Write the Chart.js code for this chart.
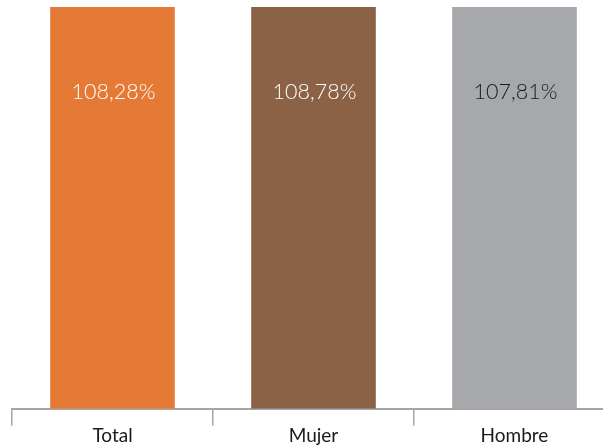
<!DOCTYPE html>
<html><head><meta charset="utf-8">
<script src="https://cdn.jsdelivr.net/npm/chart.js@4"></script>
<style>html,body{margin:0;padding:0;overflow:hidden;background:#fff;width:603px;height:445px}#wrap{width:615px;height:445px;position:relative}</style>
</head><body><div id="wrap"><canvas id="c"></canvas></div>
<script>
const categories = ["Total", "Mujer", "Hombre"];
const values = [108.28, 108.78, 107.81];
const valueLabels = ["108,28%", "108,78%", "107,81%"];
const barColors = ["#E57A37", "#8B6245", "#A7A8AB"];
const labelColors = ["#ffffff", "#ffffff", "#1a1a1a"];

const labelPlugin = {
  id: 'vlabels',
  afterDatasetsDraw(chart) {
    const ctx = chart.ctx;
    const meta = chart.getDatasetMeta(0);
    ctx.save();
    ctx.font = '300 21.5px "Lato", sans-serif';
    ctx.textAlign = 'center';
    ctx.textBaseline = 'middle';
    meta.data.forEach((bar, i) => {
      ctx.fillStyle = labelColors[i];
      ctx.fillText(valueLabels[i], bar.x + 1, chart.chartArea.top + 85);
    });
    ctx.restore();
  }
};

new Chart(document.getElementById('c'), {
  type: 'bar',
  data: { labels: categories, datasets: [{ data: values, backgroundColor: barColors, barPercentage: 0.62, categoryPercentage: 1 }] },
  options: {
    responsive: true, maintainAspectRatio: false, animation: false,
    layout: { padding: { left: 12, top: 7, right: 0, bottom: 0 } },
    plugins: { legend: { display: false }, tooltip: { enabled: false } },
    scales: {
      y: { display: false, min: 0, max: 100 },
      x: {
        border: { display: true, color: '#a6a6a6', width: 2 },
        grid: { display: true, drawOnChartArea: false, drawTicks: true, tickLength: 17, color: '#a6a6a6', lineWidth: 1.5, offset: true },
        ticks: { color: '#1a1a1a', padding: 2, font: { family: 'Lato', size: 19, lineHeight: 0.8 } }
      }
    }
  },
  plugins: [labelPlugin]
});
</script></body></html>
